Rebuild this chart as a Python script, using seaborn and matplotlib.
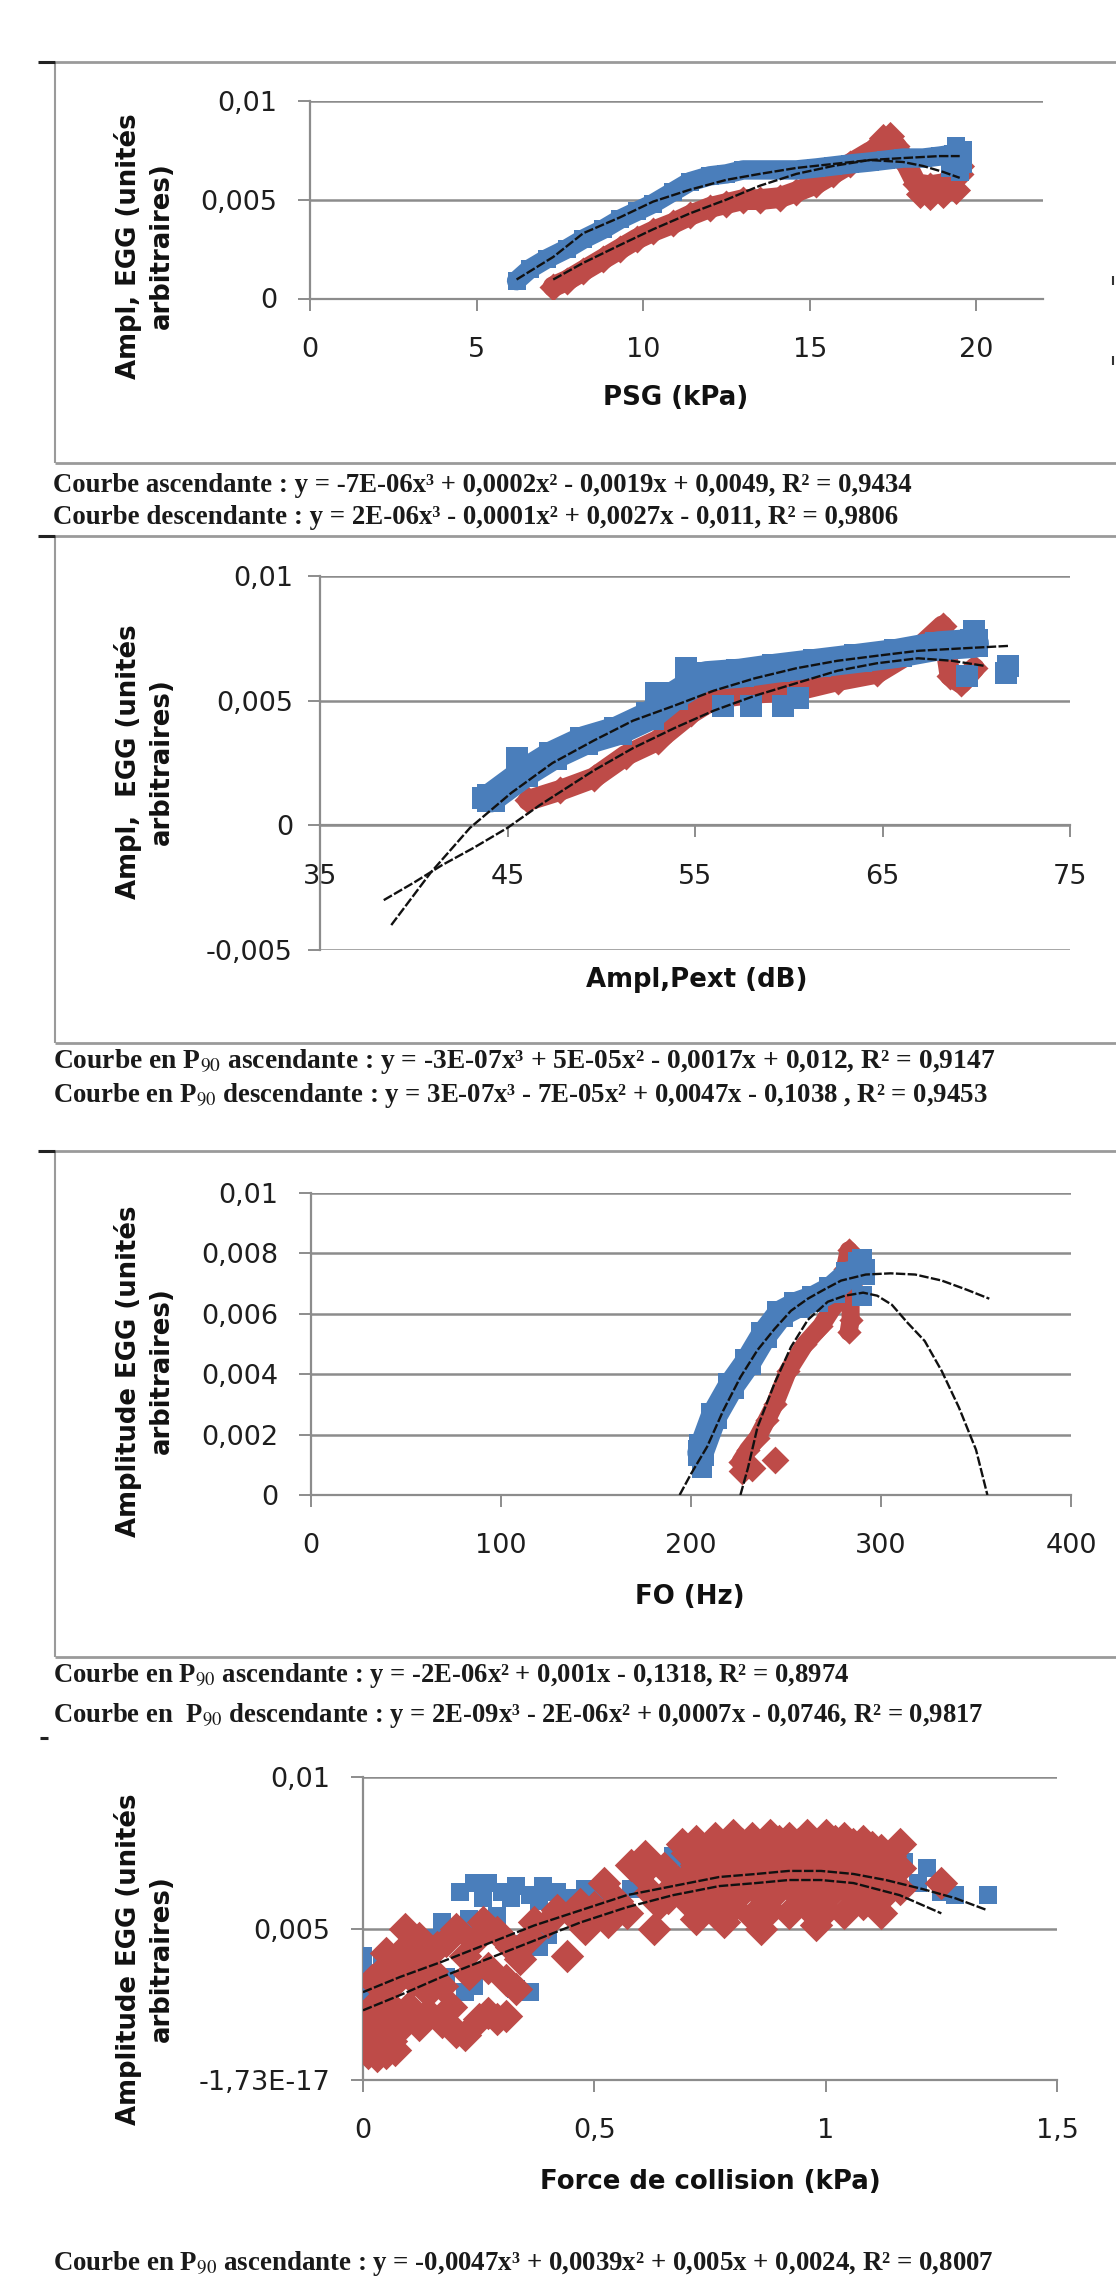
import matplotlib
matplotlib.use('Agg')
import matplotlib.pyplot as plt
from matplotlib.lines import Line2D
import seaborn as sns

W, H = 1116, 2283
BLUE = '#4a7ebb'
RED = '#be4b48'
GRID = '#8c8c8c'
FRAME = '#9a9a9a'

# ---- panel 1 : PSG ----
psg_asc_x = [6.2, 6.6, 7.1, 7.7, 8.2, 8.8, 9.3, 9.8, 10.3, 10.9, 11.4, 12.0, 12.5, 13.0,
             13.5, 14.1, 14.6, 15.2, 15.7, 16.2, 16.8, 17.3, 17.8, 18.4, 18.9, 19.3, 19.5]
psg_asc_y = [0.0009, 0.0015, 0.0020, 0.0025, 0.0030, 0.0035, 0.0040, 0.0044, 0.0048, 0.0054,
             0.0059, 0.0062, 0.0063, 0.0065, 0.0065, 0.0065, 0.0065, 0.0066, 0.0067, 0.0068,
             0.0069, 0.0070, 0.0071, 0.0071, 0.0072, 0.0073, 0.0071]
psg_asc_xs = [19.4, 19.5, 19.6, 19.2, 19.6]
psg_asc_ys = [0.0077, 0.0064, 0.0075, 0.0066, 0.0068]
psg_desc_x = [7.3, 7.7, 8.2, 8.8, 9.3, 9.8, 10.3, 10.9, 11.4, 12.0, 12.5, 13.0, 13.5, 14.1,
              14.6, 15.2, 15.7, 16.2, 16.8, 17.3, 17.6, 17.9, 18.2, 18.6, 19.0, 19.3, 19.5]
psg_desc_y = [0.0006, 0.0009, 0.0014, 0.0020, 0.0025, 0.0030, 0.0034, 0.0038, 0.0042, 0.0046,
              0.0048, 0.0050, 0.0050, 0.0051, 0.0054, 0.0058, 0.0063, 0.0068, 0.0074, 0.0078,
              0.0077, 0.0068, 0.0058, 0.0057, 0.0058, 0.0060, 0.0063]
psg_desc_xs = [18.3, 18.6, 19.0, 19.4, 19.5, 17.2, 17.4]
psg_desc_ys = [0.0053, 0.0052, 0.0053, 0.0055, 0.0067, 0.0081, 0.0082]
psg_fit_asc_x = [6.2, 7.3, 8.2, 9.3, 10.3, 11.4, 12.5, 13.5, 14.6, 15.7, 16.8, 17.8, 18.9, 19.5]
psg_fit_asc_y = [0.00096, 0.0021, 0.0033, 0.0041, 0.0049, 0.0055, 0.0060, 0.0063, 0.0066,
                 0.0068, 0.0070, 0.0071, 0.0072, 0.0072]
psg_fit_desc_x = [7.3, 8.2, 9.3, 10.3, 11.4, 12.5, 13.5, 14.6, 15.7, 16.8, 17.8, 18.4, 19.0, 19.5]
psg_fit_desc_y = [0.00096, 0.0018, 0.0027, 0.0035, 0.0043, 0.0050, 0.0057, 0.0063, 0.0067,
                  0.0070, 0.0069, 0.0067, 0.0064, 0.0061]

# ---- panel 2 : Ampl,Pext ----
pext_asc_x = [44.1, 45.9, 47.4, 49.1, 50.9, 52.6, 53.9, 55.6, 57.4, 59.3, 61.5, 63.7, 65.8, 68.0, 69.9]
pext_asc_y = [0.0011, 0.0021, 0.0028, 0.0034, 0.0038, 0.0044, 0.0052, 0.0060, 0.0061, 0.0063,
              0.0065, 0.0067, 0.0069, 0.0072, 0.0073]
pext_asc_xs = [43.7, 45.5, 52.9, 54.5, 56.5, 58.0, 59.7, 60.5, 69.5, 69.9, 71.6, 71.7]
pext_asc_ys = [0.0011, 0.0027, 0.0053, 0.0063, 0.0048, 0.0048, 0.0048, 0.0051, 0.0060, 0.0078,
               0.0061, 0.0064]
pext_desc_x = [46.1, 47.8, 49.6, 51.3, 53.0, 54.8, 56.1, 58.2, 60.4, 62.6, 64.7, 66.9, 68.2, 68.6, 69.2, 69.9]
pext_desc_y = [0.0010, 0.0014, 0.0019, 0.0028, 0.0034, 0.0045, 0.0051, 0.0053, 0.0054, 0.0058,
               0.0061, 0.0071, 0.0080, 0.0060, 0.0057, 0.0063]
pext_fit_asc_x = [38.8, 40.9, 43.0, 45.2, 47.4, 49.6, 51.7, 53.9, 56.0, 58.2, 60.4, 62.6, 64.7,
                  66.9, 69.3, 71.8]
pext_fit_asc_y = [-0.0040, -0.0019, -0.0001, 0.0013, 0.0025, 0.0034, 0.0042, 0.0048, 0.0054,
                  0.0059, 0.0063, 0.0066, 0.0068, 0.0070, 0.0071, 0.0072]
pext_fit_desc_x = [38.4, 40.0, 41.5, 43.2, 45.0, 46.7, 49.6, 51.7, 53.9, 56.0, 58.2, 60.4, 62.6,
                   64.7, 66.9, 68.7, 70.4]
pext_fit_desc_y = [-0.0030, -0.0023, -0.0016, -0.0009, -0.0001, 0.0008, 0.0022, 0.0031, 0.0039,
                   0.0046, 0.0052, 0.0057, 0.0062, 0.0065, 0.0067, 0.0066, 0.0064]

# ---- panel 3 : F0 ----
f0_asc_x = [205, 212, 221, 230, 238.5, 247, 256, 265, 274, 283, 290]
f0_asc_y = [0.0014, 0.0026, 0.0036, 0.0044, 0.0053, 0.0060, 0.0063, 0.0065, 0.0068, 0.0073, 0.0074]
f0_asc_xs = [204, 206, 288, 290, 290]
f0_asc_ys = [0.0017, 0.0009, 0.0077, 0.0078, 0.0066]
f0_desc_x = [226, 230, 235, 240, 244, 251, 260, 268.5, 275.6, 281, 283, 284, 284, 283]
f0_desc_y = [0.0011, 0.0015, 0.0019, 0.0025, 0.0030, 0.0041, 0.0050, 0.0056, 0.0063, 0.0075,
             0.0081, 0.0070, 0.0058, 0.0054]
f0_desc_xs = [244, 227, 232]
f0_desc_ys = [0.00115, 0.0008, 0.0009]
f0_fit_asc_x = [194, 200, 208.5, 217, 226, 235, 244, 252.6, 261.5, 270, 279, 292, 305, 318, 332, 345, 357]
f0_fit_asc_y = [0.0, 0.0007, 0.0016, 0.0028, 0.0039, 0.0048, 0.0055, 0.0061, 0.0065, 0.0068,
                0.0071, 0.0073, 0.00734, 0.0073, 0.0071, 0.0068, 0.0065]
f0_fit_desc_x = [226, 230, 235, 244, 252.6, 261.5, 272, 281, 290.6, 298, 305.7, 314, 323, 332,
                 341, 350, 356]
f0_fit_desc_y = [0.0, 0.0009, 0.00225, 0.0037, 0.0049, 0.0058, 0.0064, 0.0066, 0.0067, 0.0066,
                 0.0063, 0.0057, 0.0051, 0.0041, 0.0029, 0.0015, 0.0]

# ---- panel 4 : force de collision ----
fc_asc_x = [0.00, 0.00, 0.01, 0.02, 0.03, 0.05, 0.06, 0.00, 0.04, 0.07,
            0.12, 0.15, 0.17, 0.20, 0.23, 0.26, 0.29, 0.31, 0.35, 0.38, 0.40, 0.22, 0.24, 0.33, 0.36, 0.18,
            0.21, 0.24, 0.27, 0.30, 0.33, 0.36, 0.39, 0.42, 0.45, 0.48, 0.51, 0.54, 0.58, 0.61, 0.64,
            0.67, 0.70, 0.74, 0.26, 0.32, 0.38, 0.44,
            1.12, 1.15, 1.17, 1.20, 1.22, 1.25, 1.28, 1.35, 1.13, 1.00, 0.95, 0.85]
fc_asc_y = [0.0036, 0.0041, 0.0026, 0.0020, 0.0013, 0.0016, 0.0018, 0.0030, 0.0038, 0.0022,
            0.0037, 0.0047, 0.0052, 0.0048, 0.0053, 0.0050, 0.0054, 0.0046, 0.0045, 0.0044, 0.0048,
            0.0029, 0.0031, 0.0030, 0.0029, 0.0034,
            0.0062, 0.0065, 0.0065, 0.0062, 0.0064, 0.0061, 0.0064, 0.0062, 0.0060, 0.0063, 0.0061,
            0.0059, 0.0063, 0.0066, 0.0061, 0.0074, 0.0073, 0.0072, 0.0060, 0.0060, 0.0059, 0.0058,
            0.0070, 0.0066, 0.0072, 0.0065, 0.0070, 0.0062, 0.0061, 0.0061, 0.0063, 0.0067, 0.0060, 0.0070]
fc_desc_x = [0.01, 0.03, 0.05, 0.07, 0.02, 0.04, 0.06, 0.01, 0.03, 0.05, 0.08, 0.02, 0.04, 0.07, 0.00,
             0.02, 0.04, 0.06, 0.08, 0.10, 0.09, 0.12, 0.13, 0.15, 0.11, 0.16, 0.05, 0.14, 0.17,
             0.09, 0.12, 0.14, 0.17, 0.20, 0.22, 0.25, 0.27, 0.29, 0.31, 0.10, 0.19,
             0.18, 0.20, 0.22, 0.24, 0.26, 0.27, 0.29, 0.31, 0.32, 0.34, 0.36, 0.37, 0.33, 0.23,
             0.40, 0.44, 0.45, 0.48, 0.50, 0.53, 0.55, 0.57, 0.52, 0.58, 0.42, 0.47,
             0.60, 0.62, 0.64, 0.65, 0.67, 0.69, 0.63, 0.61, 0.66,
             0.70, 0.70, 0.70, 0.72, 0.72, 0.72, 0.72, 0.74, 0.74, 0.74, 0.76, 0.76, 0.76, 0.76,
             0.78, 0.78, 0.78, 0.80, 0.80, 0.80, 0.80, 0.82, 0.82, 0.82, 0.84, 0.84, 0.84, 0.84,
             0.86, 0.86, 0.86, 0.88, 0.88, 0.88, 0.88, 0.90, 0.90, 0.90, 0.92, 0.92, 0.92, 0.92,
             0.94, 0.94, 0.94, 0.96, 0.96, 0.96, 0.96, 0.98, 0.98, 0.98, 1.00, 1.00, 1.00, 1.00,
             1.02, 1.02, 1.02, 1.04, 1.04, 1.04, 1.04, 1.06, 1.06, 1.06, 1.08, 1.08, 1.08, 1.08,
             1.10, 1.10, 1.10, 1.12, 1.12, 1.12, 1.12, 1.14, 1.14, 1.16, 1.16, 1.16, 1.25,
             0.78, 0.86, 0.98]
fc_desc_y = [0.0009, 0.0008, 0.0009, 0.0010, 0.0013, 0.0015, 0.0013, 0.0018, 0.0020, 0.0018,
             0.0017, 0.0024, 0.0026, 0.0023, 0.0021,
             0.0033, 0.0036, 0.0031, 0.0039, 0.0045, 0.0050, 0.0047, 0.0041, 0.0036, 0.0033,
             0.0044, 0.0042, 0.0029, 0.0031,
             0.0020, 0.0018, 0.0022, 0.0019, 0.0016, 0.0015, 0.0020, 0.0022, 0.0020, 0.0021,
             0.0024, 0.0024,
             0.0046, 0.0050, 0.0041, 0.0046, 0.0052, 0.0037, 0.0049, 0.0033, 0.0044, 0.0040,
             0.0047, 0.0052, 0.0030, 0.0035,
             0.0052, 0.0041, 0.0055, 0.0050, 0.0057, 0.0052, 0.0059, 0.0055, 0.0065, 0.0071,
             0.0056, 0.0058,
             0.0068, 0.0062, 0.0058, 0.0070, 0.0064, 0.0078, 0.0050, 0.0074, 0.0060,
             0.0075, 0.0067, 0.0059, 0.0079, 0.0071, 0.0063, 0.0053, 0.0076, 0.0068, 0.0060,
             0.0080, 0.0072, 0.0064, 0.0055, 0.0077, 0.0069, 0.0061, 0.0081, 0.0073, 0.0065,
             0.0057, 0.0078, 0.0070, 0.0062, 0.0080, 0.0072, 0.0064, 0.0054, 0.0077, 0.0069,
             0.0061, 0.0081, 0.0073, 0.0065, 0.0056, 0.0079, 0.0071, 0.0063, 0.0080, 0.0072,
             0.0064, 0.0055, 0.0078, 0.0070, 0.0062, 0.0081, 0.0073, 0.0065, 0.0057, 0.0077,
             0.0069, 0.0061, 0.0081, 0.0073, 0.0065, 0.0056, 0.0079, 0.0071, 0.0063, 0.0080,
             0.0072, 0.0064, 0.0055, 0.0078, 0.0070, 0.0062, 0.0079, 0.0071, 0.0063, 0.0058,
             0.0077, 0.0069, 0.0061, 0.0076, 0.0068, 0.0060, 0.0055, 0.0074, 0.0066, 0.0078,
             0.0070, 0.0063, 0.0065,
             0.0052, 0.0050, 0.0051]
fc_fit_asc_x = [0.0, 0.08, 0.17, 0.27, 0.37, 0.47, 0.57, 0.67, 0.77, 0.85, 0.92, 0.99, 1.06,
                1.13, 1.21, 1.28, 1.35]
fc_fit_asc_y = [0.0029, 0.0034, 0.0039, 0.0045, 0.0051, 0.0056, 0.0061, 0.0064, 0.0067, 0.0068,
                0.0069, 0.0069, 0.0068, 0.0066, 0.0063, 0.0060, 0.0056]
fc_fit_desc_x = [0.0, 0.08, 0.17, 0.27, 0.37, 0.47, 0.57, 0.67, 0.77, 0.85, 0.92, 0.99, 1.06, 1.16, 1.25]
fc_fit_desc_y = [0.0023, 0.0028, 0.0034, 0.0040, 0.0046, 0.0052, 0.0057, 0.0061, 0.0064, 0.0065,
                 0.0066, 0.0066, 0.0065, 0.0061, 0.0055]

sns.set_style('white')
plt.rcParams['font.family'] = ['DejaVu Sans']
plt.rcParams['mathtext.fontset'] = 'stix'

fig = plt.figure(figsize=(W / 100, H / 100), dpi=100)


def fx(x):
    return x / W


def fy(y):
    return 1 - y / H


def line(x0, y0, x1, y1, color=FRAME, lw=2.0):
    fig.add_artist(Line2D([fx(x0), fx(x1)], [fy(y0), fy(y1)], transform=fig.transFigure,
                          color=color, lw=lw, solid_capstyle='butt'))


def make_ax(left, right, top, bottom, xlim, xticks, xlabels, ylim, yticks, ylabels, ypad=15):
    ax = fig.add_axes([fx(left), fy(bottom), (right - left) / W, (bottom - top) / H])
    ax.set_xlim(xlim)
    ax.set_ylim(ylim)
    ax.set_xticks(xticks)
    ax.set_xticklabels(xlabels)
    ax.set_yticks(yticks)
    ax.set_yticklabels(ylabels)
    for s in ['top', 'right']:
        ax.spines[s].set_visible(False)
    for s in ['left', 'bottom']:
        ax.spines[s].set_color(GRID)
        ax.spines[s].set_linewidth(1.6)
    ax.spines['bottom'].set_position(('data', 0))
    ax.grid(axis='y', color=GRID, lw=1.8)
    ax.grid(axis='x', visible=False)
    ax.tick_params(axis='both', direction='out', length=8.5, width=1.4, color=GRID,
                   labelsize=19.5, labelcolor='#1e1e1e', bottom=True, left=True)
    ax.tick_params(axis='x', pad=19)
    ax.tick_params(axis='y', pad=ypad)
    ax.set_axisbelow(True)
    ax.patch.set_alpha(0)
    return ax


def band(ax, x, y, color, lw, marker):
    sns.lineplot(x=x, y=y, sort=False, estimator=None, color=color, linewidth=lw,
                 solid_capstyle='round', solid_joinstyle='round', ax=ax, zorder=3)
    sns.scatterplot(x=x, y=y, color=color, marker=marker, s=(lw * 0.95) ** 2, linewidth=0,
                    ax=ax, zorder=3)


def cloud(ax, x, y, color, marker, size):
    sns.scatterplot(x=x, y=y, color=color, marker=marker, s=size, linewidth=0, ax=ax, zorder=3)


def fit(ax, x, y):
    sns.lineplot(x=x, y=y, sort=False, estimator=None, color='#111111', linewidth=1.7,
                 linestyle=(0, (4, 1)), ax=ax, zorder=5)


def ylab(y, s):
    fig.text(fx(144), fy(y), s, rotation=90, ha='center', va='center', multialignment='center',
             fontsize=18.7, fontweight='bold', linespacing=1.35, color='#111111')


def xlab(x, y, s):
    fig.text(fx(x), fy(y), s, ha='center', va='center', fontsize=18.7, fontweight='bold',
             color='#111111')


renderer = fig.canvas.get_renderer()


def caption(y, s, right):
    t = fig.text(fx(53), fy(y), s, ha='left', va='center', fontsize=18,
                 family='Liberation Serif', fontweight='bold', color='#1a1a1a')
    w = t.get_window_extent(renderer).width
    t.set_fontsize(18 * (right - 53) / w)


# frames around the panels
for top, bottom in [(62, 463), (536, 1043), (1151, 1657)]:
    line(55, top, W, top, lw=2.0)
    line(55, top, 55, bottom, lw=1.5)
    line(55, bottom, W, bottom, lw=2.0)
    line(38, top, 55, top, color='#222222', lw=2.2)
line(40, 1738, 48, 1738, color='#222222', lw=2.2)
line(1113, 276, 1113, 285, color='#333333', lw=1.5)
line(1113, 356, 1113, 365, color='#333333', lw=1.5)

# panel 1
ax1 = make_ax(310, 1043, 100.7, 298.5, (0, 22), [0, 5, 10, 15, 20], ['0', '5', '10', '15', '20'],
              (0, 0.01), [0, 0.005, 0.01], ['0', '0,005', '0,01'])
band(ax1, psg_desc_x, psg_desc_y, RED, 15, 'D')
cloud(ax1, psg_desc_xs, psg_desc_ys, RED, 'D', 220)
band(ax1, psg_asc_x, psg_asc_y, BLUE, 14, 's')
cloud(ax1, psg_asc_xs, psg_asc_ys, BLUE, 's', 170)
fit(ax1, psg_fit_asc_x, psg_fit_asc_y)
fit(ax1, psg_fit_desc_x, psg_fit_desc_y)
ylab(246, 'Ampl, EGG (unités\narbitraires)')
xlab(676, 398, 'PSG (kPa)')
caption(485, 'Courbe ascendante : y = -7E-06x³ + 0,0002x² - 0,0019x + 0,0049, R² = 0,9434', 911)
caption(517, 'Courbe descendante : y = 2E-06x³ - 0,0001x² + 0,0027x - 0,011, R² = 0,9806', 898)

# panel 2
ax2 = make_ax(320, 1070, 576, 950, (35, 75), [35, 45, 55, 65, 75], ['35', '45', '55', '65', '75'],
              (-0.005, 0.01), [-0.005, 0, 0.005, 0.01], ['-0,005', '0', '0,005', '0,01'], ypad=11)
band(ax2, pext_desc_x, pext_desc_y, RED, 15, 'D')
band(ax2, pext_asc_x, pext_asc_y, BLUE, 21, 's')
cloud(ax2, pext_asc_xs, pext_asc_ys, BLUE, 's', 260)
fit(ax2, pext_fit_asc_x, pext_fit_asc_y)
fit(ax2, pext_fit_desc_x, pext_fit_desc_y)
ylab(762, 'Ampl,  EGG (unités\narbitraires)')
xlab(697, 980, 'Ampl,Pext (dB)')
caption(1061, 'Courbe en P$_{90}$ ascendante : y = -3E-07x³ + 5E-05x² - 0,0017x + 0,012, R² = 0,9147', 995)
caption(1095, 'Courbe en P$_{90}$ descendante : y = 3E-07x³ - 7E-05x² + 0,0047x - 0,1038 , R² = 0,9453', 986)

# panel 3
ax3 = make_ax(311, 1071, 1193, 1495, (0, 400), [0, 100, 200, 300, 400],
              ['0', '100', '200', '300', '400'], (0, 0.01),
              [0, 0.002, 0.004, 0.006, 0.008, 0.01],
              ['0', '0,002', '0,004', '0,006', '0,008', '0,01'])
band(ax3, f0_desc_x, f0_desc_y, RED, 13, 'D')
cloud(ax3, f0_desc_xs, f0_desc_ys, RED, 'D', 200)
band(ax3, f0_asc_x, f0_asc_y, BLUE, 19, 's')
cloud(ax3, f0_asc_xs, f0_asc_ys, BLUE, 's', 220)
fit(ax3, f0_fit_asc_x, f0_fit_asc_y)
fit(ax3, f0_fit_desc_x, f0_fit_desc_y)
ylab(1371, 'Amplitude EGG (unités\narbitraires)')
xlab(690, 1597, 'FO (Hz)')
caption(1676, 'Courbe en P$_{90}$ ascendante : y = -2E-06x² + 0,001x - 0,1318, R² = 0,8974', 850)
caption(1715, 'Courbe en  P$_{90}$ descendante : y = 2E-09x³ - 2E-06x² + 0,0007x - 0,0746, R² = 0,9817', 982)

# panel 4
ax4 = make_ax(363, 1057, 1777, 2080, (0, 1.5), [0, 0.5, 1, 1.5], ['0', '0,5', '1', '1,5'],
              (0, 0.01), [0, 0.005, 0.01], ['-1,73E-17', '0,005', '0,01'])
cloud(ax4, fc_asc_x, fc_asc_y, BLUE, 's', 160)
cloud(ax4, fc_desc_x, fc_desc_y, RED, 'D', 290)
fit(ax4, fc_fit_asc_x, fc_fit_asc_y)
fit(ax4, fc_fit_desc_x, fc_fit_desc_y)
ylab(1959, 'Amplitude EGG (unités\narbitraires)')
xlab(710, 2182, 'Force de collision (kPa)')
caption(2263, 'Courbe en P$_{90}$ ascendante : y = -0,0047x³ + 0,0039x² + 0,005x + 0,0024, R² = 0,8007', 996)

fig.savefig('out.png', dpi=100)
